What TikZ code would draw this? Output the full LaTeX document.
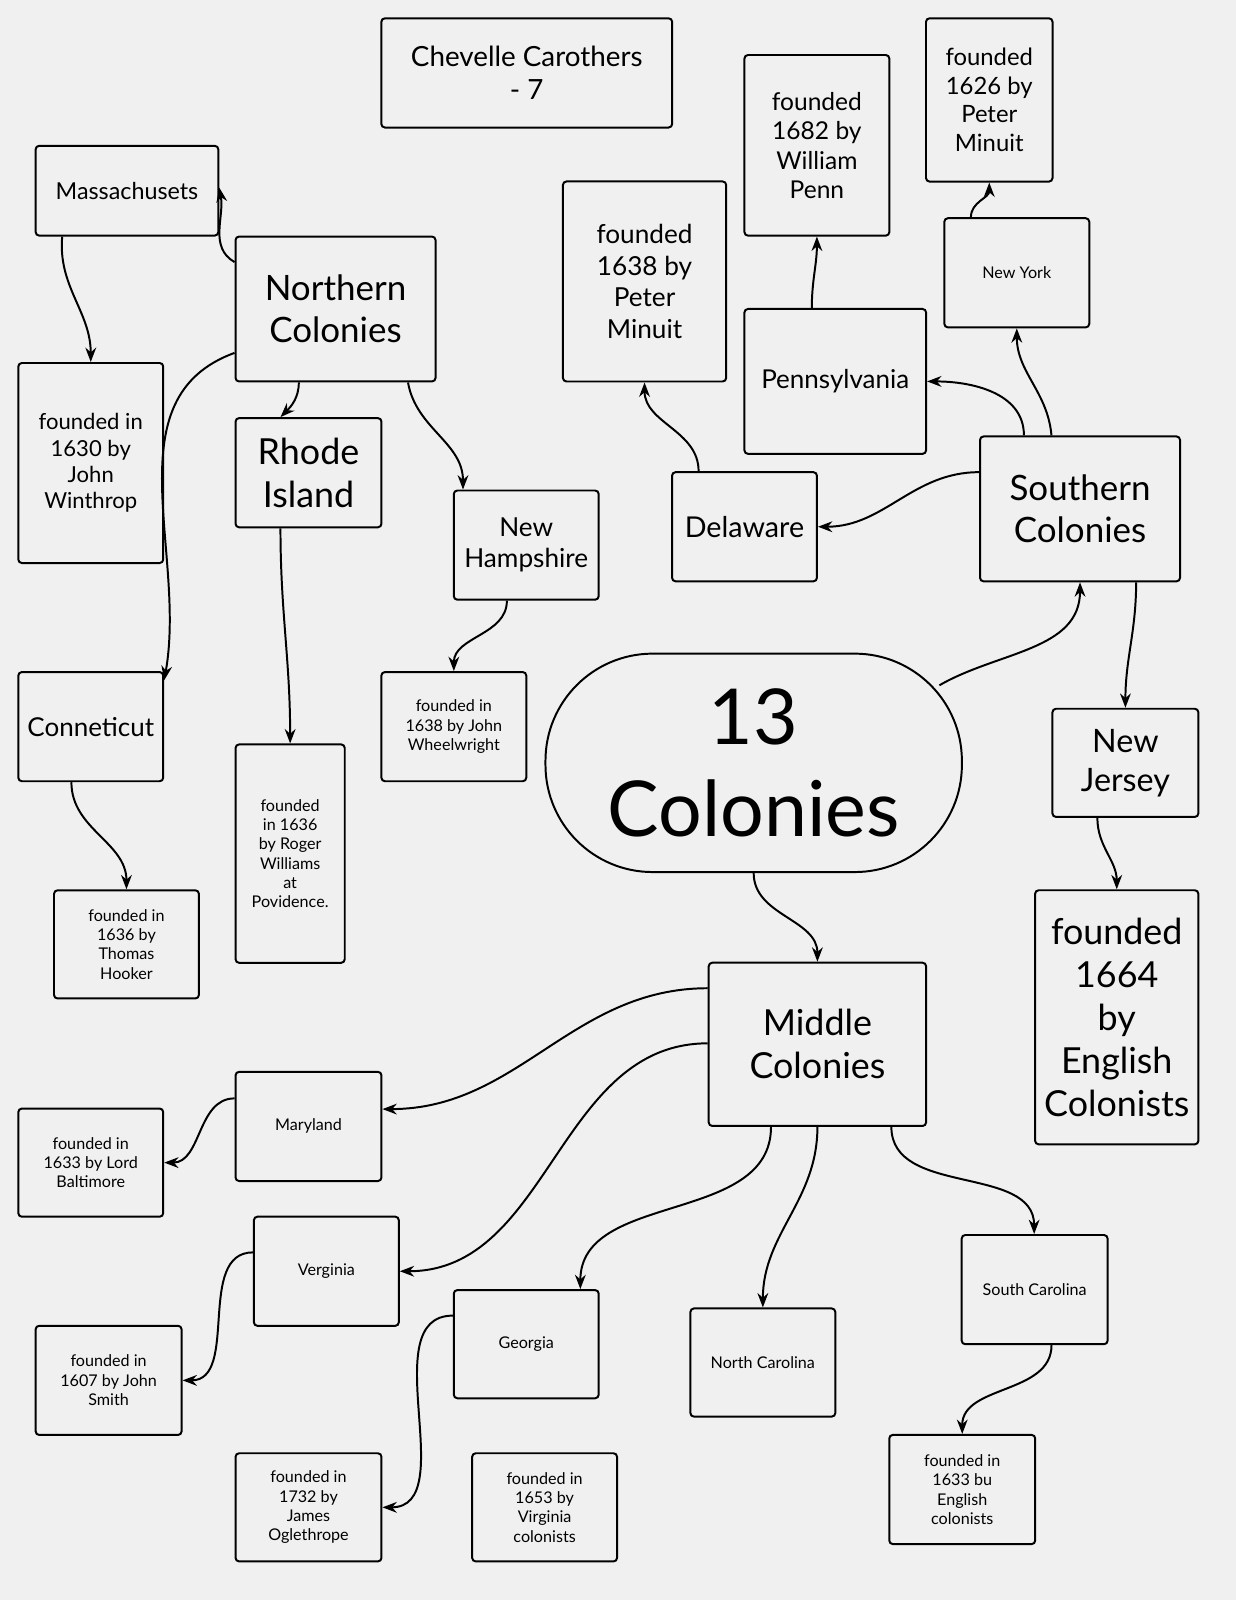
\documentclass[tikz,border=0pt]{standalone}
\usepackage{fontspec}
\setmainfont{Lato}
\usetikzlibrary{arrows.meta}
\newcommand\fs[1]{\fontsize{#1}{1.2\dimexpr#1pt\relax}\selectfont}
% box from its corners (x1,y1,x2,y2) in pixels of the reference
\newcommand\bx[7][]{\node[box,#1,minimum width={(#4-#2)*0.02cm},minimum height={(#5-#3)*0.02cm}]
  (#6) at ({(#2+#4)*0.01},{-(#3+#5)*0.01}) {#7};}
\begin{document}
\begin{tikzpicture}[
	box/.style={draw, line width=1.1pt, rounded corners=2pt, inner sep=0pt, align=center},
	link/.style={-{Stealth[length=8pt,width=6pt]}, line width=1.1pt}]

	\useasboundingbox[fill=white!94!black] (0,0) rectangle (24.22,-31.36);

	% Boxes
	\bx[font=\fs{15.5}]{374}{18}{659}{125}{title}{Chevelle Carothers\\- 7}
	\bx[font=\fs{13}]{35}{143}{214}{231}{mass}{Massachusets}
	\bx[font=\fs{19.5}]{231}{232}{427}{374}{north}{Northern\\Colonies}
	\bx[font=\fs{12.3}]{18}{356}{160}{552}{winthrop}{founded in\\1630 by\\John\\Winthrop}
	\bx[font=\fs{20}]{231}{410}{374}{517}{rhode}{Rhode\\Island}
	\bx[font=\fs{14.6}]{445}{481}{587}{588}{nh}{New\\Hampshire}
	\bx[font=\fs{9}]{374}{659}{516}{766}{wheel}{founded in\\1638 by John\\Wheelwright}
	\bx[font=\fs{14.5}]{18}{659}{160}{766}{conn}{Conneticut}
	\bx[font=\fs{9}]{53}{873}{195}{979}{hooker}{founded in\\1636 by\\Thomas\\Hooker}
	\bx[font=\fs{9}]{231}{730}{338}{944}{roger}{founded\\in 1636\\by Roger\\Williams\\at\\Povidence.}
	\bx[font=\fs{14.6}]{552}{178}{712}{374}{minuitA}{founded\\1638 by\\Peter\\Minuit}
	\bx[font=\fs{13.7}]{730}{54}{872}{231}{penn}{founded\\1682 by\\William\\Penn}
	\bx[font=\fs{14.5}]{730}{303}{908}{445}{penns}{Pennsylvania}
	\bx[font=\fs{13.3}]{908}{18}{1032}{178}{minuitB}{founded\\1626 by\\Peter\\Minuit}
	\bx[font=\fs{9}]{926}{214}{1068}{321}{ny}{New York}
	\bx[font=\fs{16}]{659}{463}{801}{570}{delaware}{Delaware}
	\bx[font=\fs{19.5}]{961}{428}{1157}{570}{southern}{Southern\\Colonies}
	\bx[font=\fs{43}, rounded corners=2.1cm]{535}{641}{943}{855}{thirteen}{13\\Colonies}
	\bx[font=\fs{18}]{1032}{695}{1175}{801}{nj}{New\\Jersey}
	\bx[font=\fs{20}]{1015}{873}{1175}{1122}{english}{founded\\1664\\by\\English\\Colonists}
	\bx[font=\fs{20}]{695}{944}{908}{1104}{middle}{Middle\\Colonies}
	\bx[font=\fs{9}]{231}{1051}{374}{1158}{maryland}{Maryland}
	\bx[font=\fs{9}]{18}{1087}{160}{1193}{baltimore}{founded in\\1633 by Lord\\Baltimore}
	\bx[font=\fs{9}]{249}{1193}{391}{1300}{verginia}{Verginia}
	\bx[font=\fs{9}]{35}{1300}{178}{1407}{smith}{founded in\\1607 by John\\Smith}
	\bx[font=\fs{9}]{445}{1265}{587}{1371}{georgia}{Georgia}
	\bx[font=\fs{9}]{231}{1425}{374}{1531}{ogle}{founded in\\1732 by\\James\\Oglethrope}
	\bx[font=\fs{9}]{463}{1425}{605}{1531}{virgcol}{founded in\\1653 by\\Virginia\\colonists}
	\bx[font=\fs{9}]{677}{1283}{819}{1389}{nc}{North Carolina}
	\bx[font=\fs{9}]{943}{1211}{1086}{1318}{sc}{South Carolina}
	\bx[font=\fs{9}]{872}{1407}{1015}{1514}{engcol}{founded in\\1633 bu\\English\\colonists}

	% Northern links
	\draw[link] ([yshift=-0.52cm]north.north west) to[out=150,in=-80] ([yshift=-0.84cm]mass.north east);
	\draw[link] ([xshift=0.54cm]mass.south west) to[out=-95,in=90] (winthrop.north);
	\draw[link] ([yshift=-2.3cm]north.north west) to[out=200,in=80] ([yshift=-0.18cm]conn.north east);
	\draw[link] ([xshift=1.26cm]north.south west) to[out=-90,in=45] ([xshift=0.9cm]rhode.north west);
	\draw[link] ([xshift=3.4cm]north.south west) to[out=-80,in=90] ([xshift=0.2cm]nh.north west);
	\draw[link] ([xshift=0.9cm]rhode.south west) to[out=-90,in=90] (roger.north);
	\draw[link] ([xshift=1.06cm]nh.south west) to[out=-90,in=90] (wheel.north);
	\draw[link] ([xshift=1.06cm]conn.south west) to[out=-90,in=90] (hooker.north);

	% Southern links
	\draw[link] ([xshift=-0.46cm,yshift=1.52cm]thirteen.east) to[out=30,in=-90] (southern.south);
	\draw[link] ([yshift=0.72cm]southern.west) to[out=180,in=0] (delaware.east);
	\draw[link] ([xshift=0.88cm]southern.north west) to[out=90,in=0] (penns.east);
	\draw[link] ([xshift=1.42cm]southern.north west) to[out=95,in=-90] (ny.south);
	\draw[link] ([xshift=-0.88cm]southern.south east) to[out=-90,in=90] (nj.north);
	\draw[link] ([xshift=0.9cm]nj.south west) to[out=-90,in=90] (english.north);
	\draw[link] ([xshift=0.54cm]delaware.north west) to[out=90,in=-90] (minuitA.south);
	\draw[link] ([xshift=1.34cm]penns.north west) to[out=90,in=-90] (penn.south);
	\draw[link] ([xshift=0.54cm]ny.north west) to[out=90,in=-90] (minuitB.south);

	% Middle links
	\draw[link] (thirteen.south) to[out=-90,in=90] (middle.north);
	\draw[link] ([yshift=-0.52cm]middle.north west) to[out=180,in=0] ([yshift=0.34cm]maryland.east);
	\draw[link] ([yshift=-1.6cm]middle.north west) to[out=180,in=0] (verginia.east);
	\draw[link] ([xshift=1.24cm]middle.south west) to[out=-90,in=90] ([xshift=2.5cm]georgia.north west);
	\draw[link] (middle.south) to[out=-90,in=90] (nc.north);
	\draw[link] ([xshift=-0.7cm]middle.south east) to[out=-90,in=90] ([xshift=1.44cm]sc.north west);
	\draw[link] ([yshift=-0.54cm]maryland.north west) to[out=180,in=0] (baltimore.east);
	\draw[link] ([yshift=-0.72cm]verginia.north west) to[out=180,in=0] (smith.east);
	\draw[link] ([yshift=-0.52cm]georgia.north west) to[out=180,in=0] (ogle.east);
	\draw[link] ([xshift=1.78cm]sc.south west) to[out=-90,in=90] (engcol.north);

\end{tikzpicture}
\end{document}
